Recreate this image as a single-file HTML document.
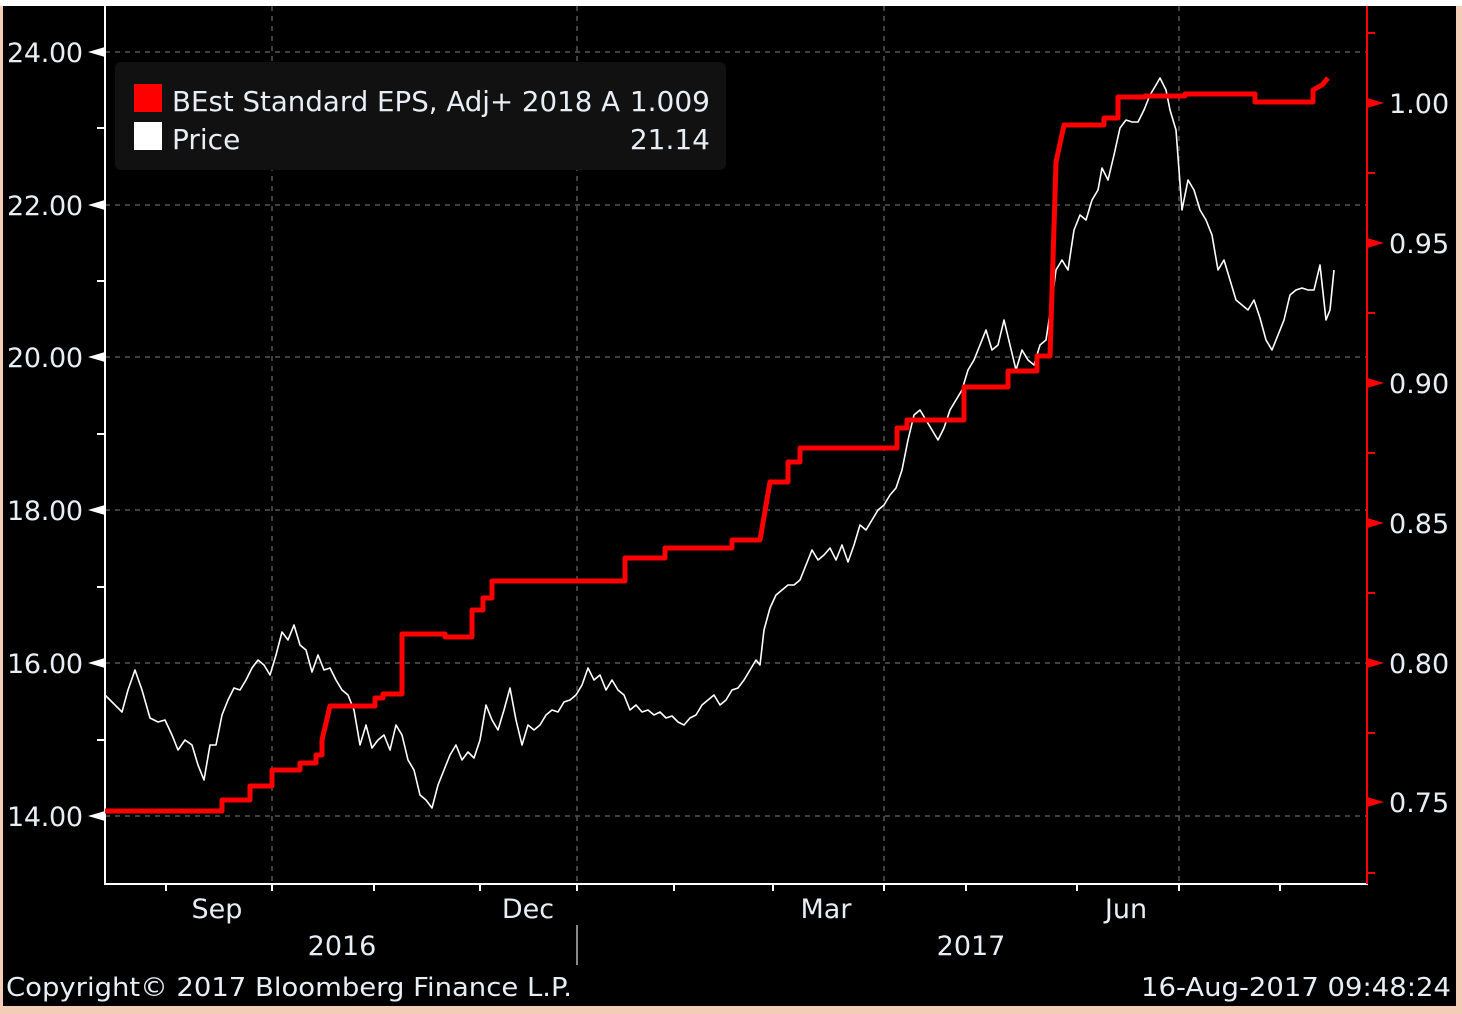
<!DOCTYPE html>
<html><head><meta charset="utf-8"><style>
body{margin:0;background:#f3cdb6;}
svg{display:block;font-family:"DejaVu Sans","Liberation Sans",sans-serif;}
</style></head><body>
<svg width="1462" height="1014" viewBox="0 0 1462 1014">
<rect x="0" y="0" width="1462" height="6" fill="#fff"/>
<rect x="3" y="6" width="1453" height="1000" fill="#000"/>
<g stroke="#555" stroke-width="1.5" stroke-dasharray="5,5">
<line x1="105" x2="1367" y1="52" y2="52"/><line x1="105" x2="1367" y1="205" y2="205"/>
<line x1="105" x2="1367" y1="357" y2="357"/><line x1="105" x2="1367" y1="510" y2="510"/>
<line x1="105" x2="1367" y1="663" y2="663"/><line x1="105" x2="1367" y1="816" y2="816"/>
<line x1="272" x2="272" y1="6" y2="884"/><line x1="577" x2="577" y1="6" y2="884"/>
<line x1="884" x2="884" y1="6" y2="884"/><line x1="1179" x2="1179" y1="6" y2="884"/>
</g>
<g stroke="#fff" stroke-width="2">
<line x1="105" x2="105" y1="6" y2="885"/><line x1="104" x2="1368" y1="884" y2="884"/>
<line x1="166" x2="166" y1="884" y2="891"/><line x1="272" x2="272" y1="884" y2="891"/><line x1="374" x2="374" y1="884" y2="891"/><line x1="480" x2="480" y1="884" y2="891"/><line x1="577" x2="577" y1="884" y2="891"/><line x1="674" x2="674" y1="884" y2="891"/><line x1="773" x2="773" y1="884" y2="891"/><line x1="884" x2="884" y1="884" y2="891"/><line x1="966" x2="966" y1="884" y2="891"/><line x1="1077" x2="1077" y1="884" y2="891"/><line x1="1179" x2="1179" y1="884" y2="891"/><line x1="1280" x2="1280" y1="884" y2="891"/>
<line x1="97" x2="105" y1="128" y2="128"/><line x1="97" x2="105" y1="281" y2="281"/><line x1="97" x2="105" y1="434" y2="434"/><line x1="97" x2="105" y1="587" y2="587"/><line x1="97" x2="105" y1="740" y2="740"/>
<line x1="577" x2="577" y1="925" y2="965" stroke="#888"/>
</g>
<g fill="#fff">
<polygon points="88,52 105,47 105,57"/><polygon points="88,205 105,200 105,210"/><polygon points="88,357 105,352 105,362"/><polygon points="88,510 105,505 105,515"/><polygon points="88,663 105,658 105,668"/><polygon points="88,816 105,811 105,821"/>
</g>
<g stroke="#f00" stroke-width="2">
<line x1="1367" x2="1367" y1="6" y2="884"/>
<line x1="1367" x2="1375" y1="33" y2="33"/><line x1="1367" x2="1375" y1="173" y2="173"/><line x1="1367" x2="1375" y1="313" y2="313"/><line x1="1367" x2="1375" y1="453" y2="453"/><line x1="1367" x2="1375" y1="593" y2="593"/><line x1="1367" x2="1375" y1="733" y2="733"/><line x1="1367" x2="1375" y1="873" y2="873"/>
</g>
<g fill="#f00">
<polygon points="1384,103 1367,98 1367,108"/><polygon points="1384,243 1367,238 1367,248"/><polygon points="1384,383 1367,378 1367,388"/><polygon points="1384,523 1367,518 1367,528"/><polygon points="1384,663 1367,658 1367,668"/><polygon points="1384,802 1367,797 1367,807"/>
</g>
<g fill="#e8eef5" font-size="27">
<text x="7" y="62" textLength="76">24.00</text><text x="7" y="215" textLength="76">22.00</text><text x="7" y="367" textLength="76">20.00</text><text x="7" y="520" textLength="76">18.00</text><text x="7" y="673" textLength="76">16.00</text><text x="7" y="826" textLength="76">14.00</text>
<text x="1389" y="113">1.00</text><text x="1389" y="253">0.95</text><text x="1389" y="393">0.90</text><text x="1389" y="533">0.85</text><text x="1389" y="673">0.80</text><text x="1389" y="812">0.75</text>
<g text-anchor="middle"><text x="217" y="918">Sep</text><text x="528" y="918">Dec</text><text x="826" y="918">Mar</text><text x="1126" y="918">Jun</text><text x="342" y="955">2016</text><text x="971" y="955">2017</text></g>
<text x="6" y="996" font-size="26" textLength="566" lengthAdjust="spacingAndGlyphs">Copyright© 2017 Bloomberg Finance L.P.</text>
<text x="1141" y="996" font-size="26" textLength="310" lengthAdjust="spacingAndGlyphs">16-Aug-2017 09:48:24</text>
</g>
<polyline fill="none" stroke="#fff" stroke-width="1.6" stroke-linejoin="round" points="105,695 115,705 122,712 128,690 135,670 142,690 150,718 158,722 165,720 172,735 178,750 185,740 192,745 198,765 204,780 210,745 216,745 222,715 228,700 234,688 240,690 246,680 252,668 258,660 264,665 270,675 276,655 282,632 288,640 294,625 300,645 306,650 312,672 318,655 324,670 330,668 336,680 342,690 348,695 354,710 360,745 366,725 372,748 378,740 384,735 390,750 396,725 402,735 408,760 414,770 420,795 426,800 432,808 438,785 444,770 450,755 456,745 462,760 468,752 474,758 480,740 486,705 492,720 498,730 504,710 510,688 516,720 522,745 528,725 534,730 540,725 546,715 552,710 558,712 564,702 570,700 576,695 582,685 588,668 594,680 600,675 606,690 612,680 618,690 624,695 630,710 636,705 642,712 648,710 654,715 660,712 666,718 672,716 678,722 684,725 690,718 696,715 702,705 708,700 714,695 720,705 726,700 732,690 738,688 744,680 750,670 756,660 760,665 764,630 770,608 776,595 782,590 788,585 794,585 800,580 806,565 812,550 818,560 824,555 830,548 836,560 842,545 848,562 854,545 860,525 866,530 872,520 878,510 884,505 890,495 896,488 902,470 908,440 914,415 920,410 926,420 932,430 938,440 944,428 950,410 956,400 962,390 968,370 974,360 980,345 986,330 992,350 998,345 1004,320 1010,345 1016,370 1022,350 1028,360 1034,365 1040,345 1046,340 1052,300 1056,270 1062,260 1068,270 1074,230 1080,215 1086,220 1092,200 1098,190 1102,168 1108,180 1114,155 1120,128 1126,120 1132,122 1138,122 1144,110 1150,95 1156,85 1160,78 1166,90 1170,110 1176,130 1182,210 1188,180 1194,190 1200,210 1206,220 1212,235 1218,270 1224,260 1230,280 1236,300 1242,305 1248,310 1254,300 1260,318 1266,340 1272,350 1278,335 1284,320 1290,295 1296,290 1302,288 1308,290 1314,290 1320,265 1326,320 1330,310 1334,270"/>
<path fill="none" stroke="#f00" stroke-width="5" stroke-linejoin="round" d="M105,811 H222 V800 H250 V786 H272 V770 H300 V763 H316 V755 H322 V740 L330,706 H375 V698 H383 V694 H402 V634 H445 V637 H472 V610 H483 V598 H492 V581 H625 V558 H665 V548 H732 V540 H760 L770,482 H788 V462 H800 V448 H897 V428 H907 V420 H964 V387 H1008 V371 H1037 V356 H1050 L1056,162 L1064,125 H1104 V118 H1118 V97 H1145 V96 H1185 V94 H1255 V102 H1313 V90 L1322,85 L1328,78"/>
<rect x="115" y="62" width="611" height="108" rx="6" fill="#111"/>
<rect x="134" y="84" width="28" height="28" fill="#f00"/>
<rect x="134" y="122" width="28" height="28" fill="#fff"/>
<g fill="#e8eef5" font-size="28">
<text x="172" y="111" textLength="448" lengthAdjust="spacingAndGlyphs">BEst Standard EPS, Adj+ 2018 A</text><text x="710" y="111" text-anchor="end">1.009</text>
<text x="172" y="149">Price</text><text x="710" y="149" text-anchor="end">21.14</text>
</g>
</svg>
</body></html>
